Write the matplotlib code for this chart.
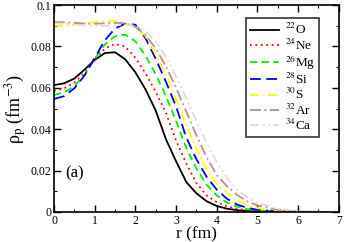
import matplotlib
matplotlib.use("Agg")
import matplotlib.pyplot as plt
from matplotlib.ticker import MultipleLocator, FuncFormatter

plt.rcParams['font.family'] = ['Liberation Serif', 'DejaVu Serif']
plt.rcParams['mathtext.fontset'] = 'stix'

r = [0, 0.25, 0.5, 0.75, 1.0, 1.25, 1.5, 1.75, 2.0, 2.25, 2.5, 2.75, 3.0, 3.25,
     3.5, 3.75, 4.0, 4.25, 4.5, 4.75, 5.0, 5.5, 6.0, 7.0]

o22 = [0.0613, 0.0622, 0.0645, 0.0688, 0.0735, 0.0768, 0.0772, 0.0738, 0.0675, 0.0592,
       0.0490, 0.0352, 0.0245, 0.0145, 0.0090, 0.0052, 0.0029, 0.0016, 0.0009, 0.0005,
       0.0003, 0.0001, 0.0, 0.0]
ne24 = [0.0586, 0.0598, 0.0625, 0.0672, 0.0738, 0.0790, 0.0812, 0.0800, 0.0745, 0.0670,
        0.0580, 0.0480, 0.0345, 0.0235, 0.0140, 0.0080, 0.0048, 0.0027, 0.0015, 0.0008,
        0.0004, 0.0001, 0.0, 0.0]
mg26 = [0.0565, 0.0578, 0.0608, 0.0660, 0.0740, 0.0810, 0.0850, 0.0857, 0.0825, 0.0755,
        0.0665, 0.0560, 0.0440, 0.0310, 0.0210, 0.0132, 0.0080, 0.0046, 0.0026, 0.0014,
        0.0007, 0.0002, 0.00005, 0.0]
si28 = [0.0546, 0.0560, 0.0598, 0.0660, 0.0745, 0.0830, 0.0887, 0.0910, 0.0905, 0.0840,
        0.0740, 0.0630, 0.0510, 0.0360, 0.0255, 0.0170, 0.0108, 0.0064, 0.0036, 0.0020,
        0.0011, 0.0003, 0.0001, 0.0]
s30 = [0.0900, 0.0901, 0.0905, 0.0912, 0.0918, 0.0923, 0.0923, 0.0912, 0.0895, 0.0850,
       0.0760, 0.0665, 0.0545, 0.0420, 0.0305, 0.0205, 0.0135, 0.0095, 0.0057, 0.0033,
       0.0019, 0.0005, 0.0001, 0.0]
ar32 = [0.0918, 0.0917, 0.0914, 0.0911, 0.0910, 0.0912, 0.0914, 0.0912, 0.0895, 0.0855,
        0.0790, 0.0705, 0.0600, 0.0485, 0.0370, 0.0265, 0.0178, 0.0125, 0.0082, 0.0052,
        0.0032, 0.0010, 0.0002, 0.0]
ca34 = [0.0912, 0.0910, 0.0906, 0.0902, 0.0900, 0.0900, 0.0902, 0.0905, 0.0900, 0.0875,
        0.0825, 0.0750, 0.0655, 0.0550, 0.0440, 0.0335, 0.0240, 0.0165, 0.0108, 0.0070,
        0.0044, 0.0016, 0.0005, 0.0001]

labels = ['$^{22}$O', '$^{24}$Ne', '$^{26}$Mg', '$^{28}$Si', '$^{30}$S', '$^{32}$Ar', '$^{34}$Ca']

fig = plt.figure(figsize=(3.44, 2.42), dpi=100)
ax = fig.add_axes([0.157, 0.124, 0.828, 0.855])

ax.plot(r, o22, color='black', lw=1.3, ls='-', label=labels[0])
ax.plot(r, ne24, color='red', lw=1.3, ls=(0, (1, 2)), label=labels[1])
ax.plot(r, mg26, color='#00ee00', lw=1.3, ls=(0, (4, 2.5)), label=labels[2])
ax.plot(r, si28, color='blue', lw=1.3, ls=(0, (6, 3)), label=labels[3])
ax.plot(r, s30, color='#ffff00', lw=1.3, ls=(0, (5, 2, 1, 2)), label=labels[4])
ax.plot(r, ar32, color='#bc8f8f', lw=1.3, ls=(0, (6, 2, 1, 2)), label=labels[5])
ax.plot(r, ca34, color='#dcdcdc', lw=1.3, ls=(0, (5, 2, 1, 2, 1, 2)), label=labels[6])

ax.set_xlim(0, 7)
ax.set_ylim(0, 0.1)
ax.xaxis.set_major_locator(MultipleLocator(1))
ax.xaxis.set_minor_locator(MultipleLocator(0.5))
ax.yaxis.set_major_locator(MultipleLocator(0.02))
ax.yaxis.set_minor_locator(MultipleLocator(0.01))
ax.yaxis.set_major_formatter(FuncFormatter(lambda v, p: '0' if v == 0 else ('0.1' if abs(v - 0.1) < 1e-9 else '%.2f' % v)))
ax.tick_params(which='both', direction='in', top=True, right=True, labelsize=8.5, pad=2)
ax.tick_params(which='major', length=5, width=1)
ax.tick_params(which='minor', length=2.5, width=0.8)
for s in ax.spines.values():
    s.set_linewidth(1.2)

ax.set_xlabel('r (fm)', fontsize=12.5, labelpad=0)
ax.set_ylabel('ρ$_{\\rm p}$ (fm$^{-3}$)', fontsize=13, labelpad=1)
ax.text(0.27, 0.0165, '(a)', fontsize=12)

leg = ax.legend(loc='upper right', bbox_to_anchor=(0.93, 0.937), fontsize=9.5,
                frameon=True, fancybox=False, edgecolor='black', handlelength=2.2,
                labelspacing=0.02, borderpad=0.3, handletextpad=0.4, borderaxespad=0)
leg.get_frame().set_linewidth(1.2)

fig.savefig('out.png', dpi=100)
